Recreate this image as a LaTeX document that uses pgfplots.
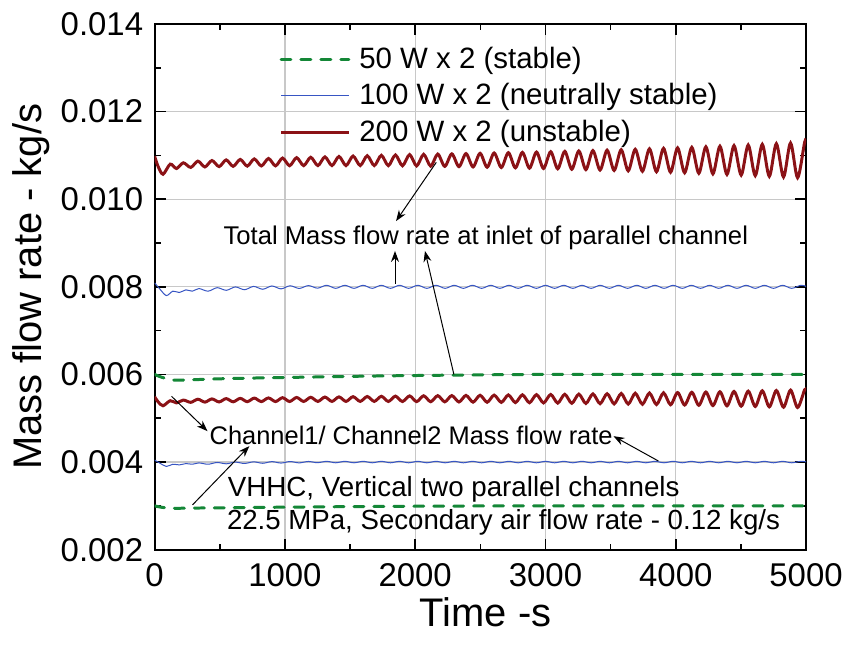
\documentclass[border=0pt]{standalone}
\usepackage{pgfplots}
\pgfplotsset{compat=1.18}
\usepackage{pgfplotstable}
\usepackage{fontspec}
\setmainfont{Liberation Sans}
\usetikzlibrary{arrows.meta}
\definecolor{cred}{RGB}{139,18,22}
\definecolor{cblue}{RGB}{55,85,195}
\definecolor{cgreen}{RGB}{20,135,55}
\definecolor{cgrid}{RGB}{200,200,200}

\pgfplotstableread{
t tot ch
0 0.010980 0.005490
25 0.010760 0.005380
64 0.010570 0.005285
120 0.010800 0.005400
168 0.010700 0.005350
220 0.010830 0.005415
277 0.010725 0.005363
332 0.010868 0.005434
386 0.010736 0.005368
440 0.010882 0.005441
495 0.010744 0.005372
549 0.010896 0.005448
603 0.010750 0.005375
657 0.010907 0.005454
711 0.010755 0.005378
765 0.010919 0.005460
819 0.010759 0.005380
874 0.010928 0.005464
928 0.010761 0.005381
982 0.010938 0.005469
1036 0.010764 0.005382
1090 0.010947 0.005474
1144 0.010766 0.005383
1198 0.010956 0.005478
1253 0.010767 0.005384
1307 0.010965 0.005483
1361 0.010768 0.005384
1415 0.010974 0.005487
1469 0.010767 0.005384
1523 0.010984 0.005492
1578 0.010768 0.005384
1632 0.010992 0.005496
1686 0.010767 0.005384
1740 0.011001 0.005501
1794 0.010766 0.005383
1848 0.011009 0.005505
1902 0.010763 0.005382
1957 0.011017 0.005509
2011 0.010760 0.005380
2065 0.011023 0.005512
2119 0.010754 0.005377
2173 0.011029 0.005515
2227 0.010749 0.005375
2281 0.011034 0.005517
2336 0.010743 0.005372
2390 0.011041 0.005521
2444 0.010736 0.005368
2498 0.011047 0.005524
2552 0.010730 0.005365
2606 0.011054 0.005527
2661 0.010723 0.005362
2715 0.011061 0.005531
2769 0.010716 0.005358
2823 0.011068 0.005534
2877 0.010708 0.005354
2931 0.011075 0.005538
2985 0.010701 0.005351
3040 0.011083 0.005542
3094 0.010693 0.005347
3148 0.011091 0.005546
3202 0.010684 0.005342
3256 0.011100 0.005550
3310 0.010676 0.005338
3364 0.011109 0.005555
3419 0.010666 0.005333
3473 0.011118 0.005559
3527 0.010657 0.005329
3581 0.011128 0.005564
3635 0.010647 0.005324
3689 0.011138 0.005569
3744 0.010637 0.005319
3798 0.011149 0.005575
3852 0.010626 0.005313
3906 0.011160 0.005580
3960 0.010615 0.005308
4014 0.011171 0.005586
4068 0.010603 0.005302
4123 0.011183 0.005592
4177 0.010591 0.005296
4231 0.011195 0.005598
4285 0.010578 0.005289
4339 0.011208 0.005604
4393 0.010565 0.005283
4447 0.011222 0.005611
4502 0.010551 0.005276
4556 0.011236 0.005618
4610 0.010537 0.005269
4664 0.011251 0.005626
4718 0.010522 0.005261
4772 0.011266 0.005633
4827 0.010506 0.005253
4881 0.011282 0.005641
4935 0.010490 0.005245
4989 0.011299 0.005650
5000 0.011290 0.005645
}\redtab

\pgfplotstableread{
t tot ch
0 0.008090 0.004045
40 0.007950 0.003975
90 0.007800 0.003900
140 0.007900 0.003950
190 0.007870 0.003935
240 0.007930 0.003965
290 0.007900 0.003950
340 0.007960 0.003980
410 0.007900 0.003950
480 0.007980 0.003990
550 0.007920 0.003960
620 0.007997 0.003999
690 0.007933 0.003967
760 0.008009 0.004005
830 0.007944 0.003972
900 0.008019 0.004010
970 0.007953 0.003977
1040 0.008024 0.004012
1110 0.007962 0.003981
1180 0.008028 0.004014
1250 0.007969 0.003985
1320 0.008035 0.004017
1390 0.007965 0.003983
1460 0.008035 0.004017
1530 0.007965 0.003983
1600 0.008035 0.004017
1670 0.007965 0.003983
1740 0.008035 0.004017
1810 0.007965 0.003983
1880 0.008035 0.004017
1950 0.007965 0.003983
2020 0.008035 0.004017
2090 0.007965 0.003983
2160 0.008035 0.004017
2230 0.007965 0.003983
2300 0.008035 0.004017
2370 0.007965 0.003983
2440 0.008035 0.004017
2510 0.007965 0.003983
2580 0.008035 0.004017
2650 0.007965 0.003983
2720 0.008035 0.004017
2790 0.007965 0.003983
2860 0.008035 0.004017
2930 0.007965 0.003983
3000 0.008035 0.004017
3070 0.007965 0.003983
3140 0.008035 0.004017
3210 0.007965 0.003983
3280 0.008035 0.004017
3350 0.007965 0.003983
3420 0.008035 0.004017
3490 0.007965 0.003983
3560 0.008035 0.004017
3630 0.007965 0.003983
3700 0.008035 0.004017
3770 0.007965 0.003983
3840 0.008035 0.004017
3910 0.007965 0.003983
3980 0.008035 0.004017
4050 0.007965 0.003983
4120 0.008035 0.004017
4190 0.007965 0.003983
4260 0.008035 0.004017
4330 0.007965 0.003983
4400 0.008035 0.004017
4470 0.007965 0.003983
4540 0.008035 0.004017
4610 0.007965 0.003983
4680 0.008035 0.004017
4750 0.007965 0.003983
4820 0.008035 0.004017
4890 0.007965 0.003983
4960 0.008035 0.004017
5000 0.008010 0.004005
}\bluetab

\pgfplotstableread{
t tot ch
0 0.006000 0.003000
60 0.005930 0.002965
150 0.005870 0.002945
300 0.005880 0.002950
500 0.005900 0.002955
800 0.005920 0.002965
1200 0.005940 0.002975
1600 0.005960 0.002985
2000 0.005975 0.002992
2500 0.005990 0.002998
3000 0.006000 0.003000
4000 0.006000 0.003000
5000 0.006000 0.003000
}\greentab

\begin{document}
\begin{tikzpicture}
\begin{axis}[
  scale only axis, width=653pt, height=527pt,
  xmin=0, xmax=5000, ymin=0.002, ymax=0.014,
  xtick={0,1000,2000,3000,4000,5000},
  ytick={0.002,0.004,0.006,0.008,0.010,0.012,0.014},
  minor x tick num=1, minor y tick num=1,
  tick align=inside, major tick length=11pt, minor tick length=6pt,
  every tick/.style={black, line width=1.6pt},
  axis line style={line width=2pt},
  grid=major, major grid style={cgrid, line width=1.2pt},
  scaled y ticks=false,
  /pgf/number format/assume math mode=true,
  yticklabel style={/pgf/number format/fixed, /pgf/number format/fixed zerofill, /pgf/number format/precision=3, xshift=-8pt},
  xticklabel style={/pgf/number format/1000 sep={}, yshift=-10pt},
  ticklabel style={font=\fontsize{33}{40}\selectfont},
  xlabel={Time -s}, ylabel={Mass flow rate - kg/s},
  label style={font=\fontsize{40}{48}\selectfont},
  xlabel style={at={(axis description cs:0.508,-0.146)}, anchor=base},
  ylabel style={at={(axis description cs:-0.173,0.5)}, anchor=base},
  legend cell align=left,
  legend image code/.code={\draw[#1] (0pt,0pt) -- (68pt,0pt);},
  legend style={draw=none, fill=none, at={(0.1914,0.9615)}, anchor=north west,
    inner sep=0pt, font=\fontsize{29.5}{35}\selectfont,
    nodes={inner sep=0pt, text height=24pt, text depth=5.5pt},
    row sep=7.2pt,
    /tikz/every odd column/.append style={column sep=9pt}},
]
\addplot[cgreen, line width=3pt, dash pattern=on 10pt off 10pt, line cap=round, smooth] table[x=t,y=tot]{\greentab};
\addlegendentry{50 W x 2 (stable)}
\addplot[cblue, line width=1pt, smooth] table[x=t,y=tot]{\bluetab};
\addlegendentry{100 W x 2 (neutrally stable)}
\addplot[cred, line width=3pt, smooth] table[x=t,y=tot]{\redtab};
\addlegendentry{200 W x 2 (unstable)}
\addplot[cgreen, line width=3pt, dash pattern=on 10pt off 10pt, line cap=round, smooth, forget plot] table[x=t,y=ch]{\greentab};
\addplot[cblue, line width=1pt, smooth, forget plot] table[x=t,y=ch]{\bluetab};
\addplot[cred, line width=3pt, smooth, forget plot] table[x=t,y=ch]{\redtab};

\node[anchor=base west, inner sep=0pt, font=\fontsize{25.7}{30}\selectfont] at (axis cs:528,0.008977) {Total Mass flow rate at inlet of parallel channel};
\node[anchor=base west, inner sep=0pt, font=\fontsize{25.5}{30}\selectfont] at (axis cs:421,0.004393) {Channel1/ Channel2 Mass flow rate};
\node[anchor=base west, inner sep=0pt, font=\fontsize{27.8}{33}\selectfont] at (axis cs:561,0.003220) {VHHC, Vertical two parallel channels};
\node[anchor=base west, inner sep=0pt, font=\fontsize{27.7}{33}\selectfont] at (axis cs:554,0.002461) {22.5 MPa, Secondary air flow rate - 0.12 kg/s};

\draw[-{Stealth[length=11pt,width=8pt]}, line width=1pt] (axis cs:2162,0.010841) -- (axis cs:1853,0.0095);
\draw[-{Stealth[length=11pt,width=8pt]}, line width=1pt] (axis cs:1845,0.008068) -- (axis cs:1845,0.008818);
\draw[-{Stealth[length=11pt,width=8pt]}, line width=1pt] (axis cs:2297,0.006) -- (axis cs:2075,0.008818);
\draw[-{Stealth[length=11pt,width=8pt]}, line width=1pt] (axis cs:130,0.0055) -- (axis cs:406,0.004705);
\draw[-{Stealth[length=11pt,width=8pt]}, line width=1pt] (axis cs:291,0.003023) -- (axis cs:727,0.004364);
\draw[-{Stealth[length=11pt,width=8pt]}, line width=1pt] (axis cs:3867,0.004023) -- (axis cs:3522,0.004591);
\end{axis}
\path (current axis.south west) ++(-155pt,-99pt);
\path (current axis.north east) ++(38pt,24pt);
\end{tikzpicture}
\end{document}
